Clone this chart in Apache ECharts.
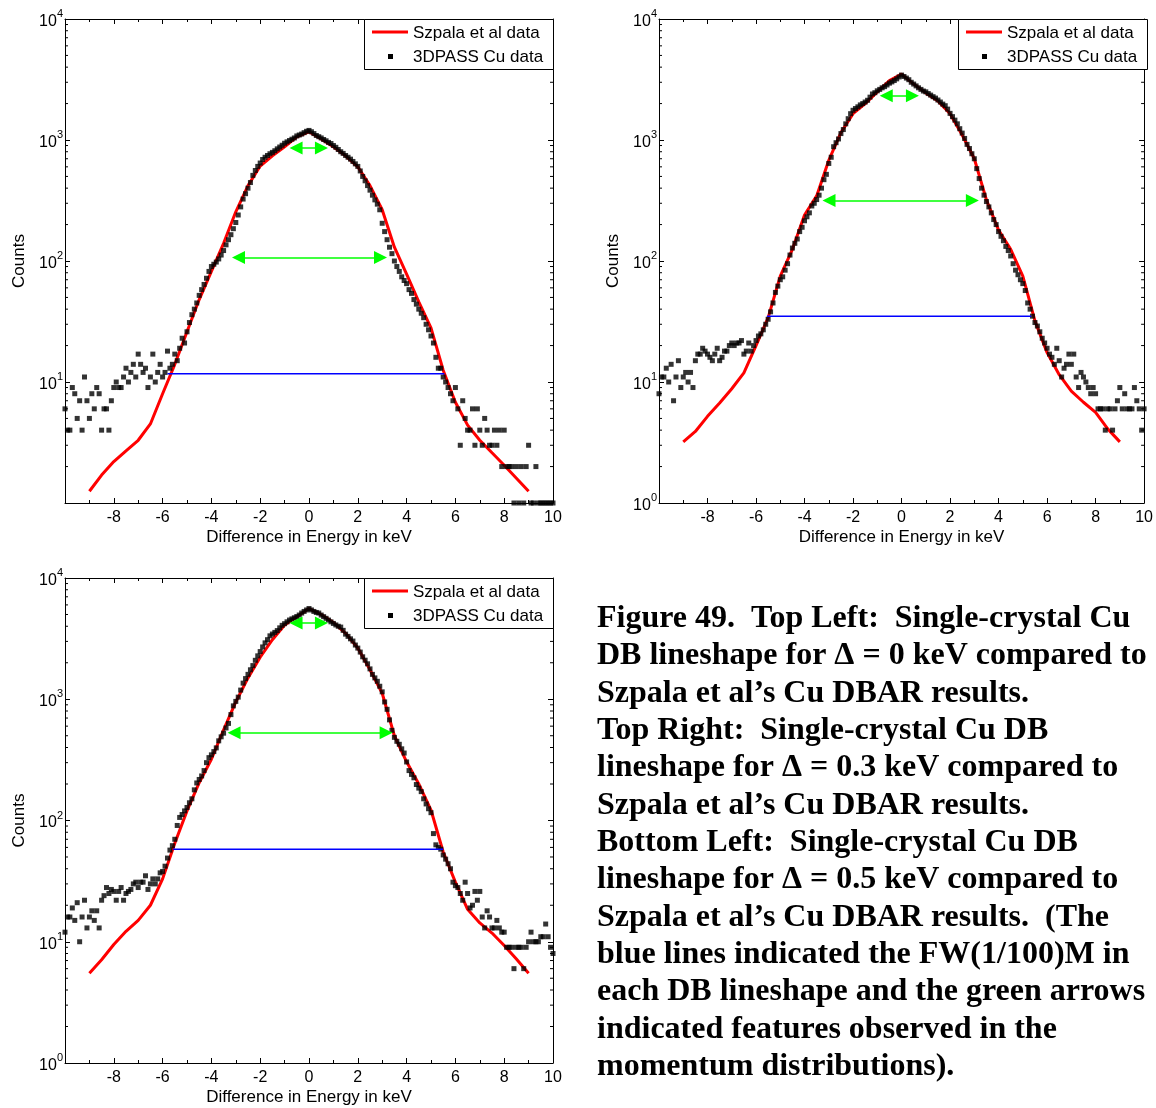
<!DOCTYPE html>
<html><head><meta charset="utf-8">
<script src="https://cdn.jsdelivr.net/npm/echarts@6/dist/echarts.min.js"></script>
<style>html,body{margin:0;padding:0;background:#fff}#chart{width:1156px;height:1108px}</style>
</head><body><div id="chart"></div>
<script>
// ---------- DATA ----------
const ENERGY = [
-10,-9.9,-9.8,-9.7,-9.6,-9.5,-9.4,-9.3,-9.2,-9.1,
-9,-8.9,-8.8,-8.7,-8.6,-8.5,-8.4,-8.3,-8.2,-8.1,
-8,-7.9,-7.8,-7.7,-7.6,-7.5,-7.4,-7.3,-7.2,-7.1,
-7,-6.9,-6.8,-6.7,-6.6,-6.5,-6.4,-6.3,-6.2,-6.1,
-6,-5.9,-5.8,-5.7,-5.6,-5.5,-5.4,-5.3,-5.2,-5.1,
-5,-4.9,-4.8,-4.7,-4.6,-4.5,-4.4,-4.3,-4.2,-4.1,
-4,-3.9,-3.8,-3.7,-3.6,-3.5,-3.4,-3.3,-3.2,-3.1,
-3,-2.9,-2.8,-2.7,-2.6,-2.5,-2.4,-2.3,-2.2,-2.1,
-2,-1.9,-1.8,-1.7,-1.6,-1.5,-1.4,-1.3,-1.2,-1.1,
-1,-0.9,-0.8,-0.7,-0.6,-0.5,-0.4,-0.3,-0.2,-0.1,
0,0.1,0.2,0.3,0.4,0.5,0.6,0.7,0.8,0.9,
1,1.1,1.2,1.3,1.4,1.5,1.6,1.7,1.8,1.9,
2,2.1,2.2,2.3,2.4,2.5,2.6,2.7,2.8,2.9,
3,3.1,3.2,3.3,3.4,3.5,3.6,3.7,3.8,3.9,
4,4.1,4.2,4.3,4.4,4.5,4.6,4.7,4.8,4.9,
5,5.1,5.2,5.3,5.4,5.5,5.6,5.7,5.8,5.9,
6,6.1,6.2,6.3,6.4,6.5,6.6,6.7,6.8,6.9,
7,7.1,7.2,7.3,7.4,7.5,7.6,7.7,7.8,7.9,
8,8.1,8.2,8.3,8.4,8.5,8.6,8.7,8.8,8.9,
9,9.1,9.2,9.3,9.4,9.5,9.6,9.7,9.8,9.9,
10];

// 3DPASS Cu data (counts per energy channel)
const TL_COUNTS = [
6,4,4,9,8,5,7,4,11,7,
5,8,6,9,8,4,6,6,4,7,
9,10,9,9,11,13,10,12,14,11,
17,14,12,13,9,11,17,10,12,14,
11,12,18,13,14,17,15,19,23,21,
26,31,36,40,45,52,58,64,72,82,
90,94,98,104,112,122,136,150,165,185,
208,240,280,325,360,400,445,510,560,605,
645,690,720,745,770,790,815,845,875,905,
940,965,990,1015,1040,1080,1100,1120,1150,1180,
1200,1170,1130,1090,1065,1040,1010,985,955,935,
900,870,835,800,775,745,720,695,665,635,
605,555,500,460,420,385,350,320,295,265,
205,175,150,130,115,100,90,82,74,69,
65,58,54,48,44,40,37,34,30,27,
24,21,16,13,13,11,10,9,8,7,
9,6,3,7,5,4,4,6,3,6,
4,3,5,4,3,3,4,3,4,2,
4,2,2,2,1,2,1,2,1,2,
3,1,1,2,1,1,1,1,1,1,1];

const TR_COUNTS = [
8,11,11,13,10,14,7,11,15,9,
11,12,10,12,9,15,17,17,19,18,
17,16,15,17,19,15,16,18,18,20,
21,20,21,21,22,17,18,21,18,20,
22,24,25,27,30,33,38,45,55,62,
70,74,84,95,112,128,140,152,175,190,
215,232,250,285,300,322,350,400,470,520,
640,720,880,950,1020,1130,1220,1360,1500,1650,
1760,1820,1880,1950,2000,2060,2130,2260,2400,2460,
2550,2620,2700,2760,2850,2950,3020,3100,3200,3320,
3440,3350,3250,3150,3000,2900,2800,2700,2620,2540,
2500,2420,2350,2280,2220,2140,2060,1980,1920,1800,
1660,1560,1460,1360,1240,1140,1030,920,850,770,
700,580,480,400,350,310,280,250,220,200,
175,160,147,132,122,110,95,84,77,70,
65,57,45,40,35,31,29,26,23,21,
19,17,16,14,19,15,11,13,14,17,
14,17,11,9,12,11,10,9,8,9,
8,6,6,6,4,6,6,4,6,7,
9,6,8,6,6,6,9,7,6,4,6];

const BL_COUNTS = [
12,16,16,19,15,21,10,16,22,13,
16,18,15,18,13,22,24,28,25,27,
26,22,26,28,22,25,26,27,30,31,
28,31,31,35,27,30,33,30,33,37,
38,42,49,57,62,70,91,106,112,120,
128,140,151,179,204,218,233,258,300,330,
348,370,397,454,490,525,580,632,747,882,
960,1041,1190,1358,1480,1604,1750,1895,2095,2280,
2473,2700,2918,3100,3334,3450,3560,3683,3880,4070,
4200,4350,4500,4600,4700,4809,4950,5140,5300,5450,
5600,5450,5300,5200,5140,4950,4800,4650,4500,4350,
4220,4100,4000,3937,3700,3444,3300,3150,3020,2800,
2642,2450,2240,2100,1960,1780,1604,1500,1406,1280,
1151,950,826,676,554,485,450,425,390,360,
304,258,240,225,198,185,173,151,137,125,
116,78,63,60,58,52,48,44,40,31,
29,28,25,22,31,25,19,20,26,22,
26,16,13,18,16,13,13,15,13,12,
12,9,9,9,6,9,9,9,6,9,
10,12,10,10,10,11,11,14,11,9,8];

// Szpala et al data
const SZPALA_ENERGY = [-9,-8.5,-8,-7.5,-7,-6.5,-6,-5.5,-5,-4.5,-4,-3.5,-3,-2.5,-2,-1.5,-1,-0.5,0,0.5,1,1.5,2,2.5,3,3.5,4,4.5,5,5.5,6,6.5,7,7.5,8,8.5,9];
const TL_SZPALA = [1.25,1.7,2.2,2.7,3.3,4.5,8,14,26,48,82,140,255,420,610,740,880,1060,1170,1020,880,740,600,420,265,130,78,46,28,12.5,6.8,4.4,3.3,2.6,2.05,1.6,1.25];
const TR_SZPALA = [3.2,3.9,5.2,6.7,8.8,11.9,20,34,75,125,240,345,680,1150,1650,2000,2500,3100,3500,2900,2450,2100,1650,1100,700,320,180,125,75,32,17.5,11.5,8.4,6.8,5.6,4.1,3.2];
const BL_SZPALA = [5.5,7.1,9.5,12.2,15,20,33,65,120,205,320,560,950,1500,2220,3100,4100,4800,5600,5000,4300,3500,2650,1750,1120,500,305,200,122,55,31,18.5,14.3,11.8,9.3,7.2,5.5];

// FW(1/100)M lines: [start keV, end keV, counts level]
const TL_FW = [-5.8, 5.55, 11.7];
const TR_FW = [-5.55, 5.35, 35];
const BL_FW = [-5.57, 5.5, 58];

// green double arrows (shaft ends): [from keV, to keV, counts level]
const TL_ARROWS = [[-0.53, 0.51, 860], [-2.89, 2.93, 107]];
const TR_ARROWS = [[-0.63, 0.45, 2320], [-2.99, 2.92, 316]];
const BL_ARROWS = [[-0.53, 0.51, 4250], [-3.07, 3.16, 530]];

const X_TICK_LABELS = [-8,-6,-4,-2,0,2,4,6,8,10];
const Y_MINOR_BASE = [2,3,4,5,6,7,8,9];
const Y_DECADES = [1,10,100,1000];

const LEGEND_LABELS = ['Szpala et al data', '3DPASS Cu data'];
const CAPTION = [
'Figure 49.  Top Left:  Single-crystal Cu',
'DB lineshape for \u0394 = 0 keV compared to',
'Szpala et al\u2019s Cu DBAR results.',
'Top Right:  Single-crystal Cu DB',
'lineshape for \u0394 = 0.3 keV compared to',
'Szpala et al\u2019s Cu DBAR results.',
'Bottom Left:  Single-crystal Cu DB',
'lineshape for \u0394 = 0.5 keV compared to',
'Szpala et al\u2019s Cu DBAR results.  (The',
'blue lines indicated the FW(1/100)M in',
'each DB lineshape and the green arrows',
'indicated features observed in the',
'momentum distributions).'
];

// ---------- LAYOUT ----------
const FONT = '"Liberation Sans", Arial, sans-serif';
const panels = [
  {grid:{left:65, top:19, width:488, height:484}, counts:TL_COUNTS, sz:TL_SZPALA, fw:TL_FW, arrows:TL_ARROWS, showZero:false},
  {grid:{left:659, top:19, width:488, height:484}, counts:TR_COUNTS, sz:TR_SZPALA, fw:TR_FW, arrows:TR_ARROWS, showZero:true},
  {grid:{left:65, top:578, width:488, height:485}, counts:BL_COUNTS, sz:BL_SZPALA, fw:BL_FW, arrows:BL_ARROWS, showZero:true}
];

const minorTickValues = [];
Y_DECADES.forEach(d => Y_MINOR_BASE.forEach(b => minorTickValues.push(b * d)));

const option = {
  animation: false,
  backgroundColor: '#fff',
  textStyle: {fontFamily: FONT},
  grid: [], xAxis: [], yAxis: [], series: [], graphic: []
};

const blackLine = {color: '#000', width: 1};

panels.forEach((p, k) => {
  option.grid.push(Object.assign({show: false, containLabel: false}, p.grid));
  const xBase = {
    gridIndex: k, type: 'value', min: -10, max: 10, interval: 2,
    axisLine: {show: true, onZero: false, lineStyle: blackLine},
    axisTick: {show: true, inside: true, length: 5, lineStyle: blackLine},
    minorTick: {show: true, splitNumber: 2, length: 3, lineStyle: blackLine},
    splitLine: {show: false}, minorSplitLine: {show: false}
  };
  option.xAxis.push(Object.assign({}, xBase, {
    position: 'bottom',
    axisLabel: {show: true, color: '#000', fontSize: 16, fontFamily: FONT, margin: 7,
      formatter: v => X_TICK_LABELS.indexOf(v) >= 0 ? String(v) : ''},
    name: 'Difference in Energy in keV', nameLocation: 'middle', nameGap: 26,
    nameTextStyle: {color: '#000', fontSize: 17, fontFamily: FONT}
  }));
  option.xAxis.push(Object.assign({}, xBase, {position: 'top', axisLabel: {show: false}}));

  const yBase = {
    gridIndex: k, type: 'log', logBase: 10, min: 1, max: 10000,
    axisLine: {show: true, onZero: false, lineStyle: blackLine},
    axisTick: {show: true, inside: true, length: 5, lineStyle: blackLine},
    minorTick: {show: false},
    splitLine: {show: false}
  };
  option.yAxis.push(Object.assign({}, yBase, {
    position: 'left',
    axisLabel: {show: true, margin: 2,
      formatter: v => {
        const e = Math.round(Math.log10(v));
        if (e === 0 && !p.showZero) return '';
        return '{b|10}{s|' + e + '}';
      },
      rich: {
        b: {fontSize: 16, color: '#000', fontFamily: FONT, verticalAlign: 'bottom'},
        s: {fontSize: 11, color: '#000', fontFamily: FONT, verticalAlign: 'bottom', padding: [0, 0, 10, 0]}
      }
    },
    name: 'Counts', nameLocation: 'middle', nameGap: 37, nameRotate: 90,
    nameTextStyle: {color: '#000', fontSize: 17, fontFamily: FONT}
  }));
  option.yAxis.push(Object.assign({}, yBase, {position: 'right', axisLabel: {show: false}}));

  const xi = 2 * k, yi = 2 * k;
  option.series.push({
    name: LEGEND_LABELS[0], type: 'line', xAxisIndex: xi, yAxisIndex: yi,
    data: SZPALA_ENERGY.map((e, i) => [e, p.sz[i]]),
    showSymbol: false, smooth: false, lineStyle: {color: '#ff0000', width: 3}, z: 2, silent: true
  });
  option.series.push({
    name: LEGEND_LABELS[1], type: 'scatter', xAxisIndex: xi, yAxisIndex: yi,
    data: ENERGY.map((e, i) => [e, p.counts[i]]),
    symbol: 'rect', symbolSize: 5, itemStyle: {color: '#000'}, z: 3, silent: true
  });
  option.series.push({
    name: 'FW(1/100)M', type: 'line', xAxisIndex: xi, yAxisIndex: yi,
    data: [[p.fw[0], p.fw[2]], [p.fw[1], p.fw[2]]],
    showSymbol: false, lineStyle: {color: '#0000ff', width: 1.5}, z: 4, silent: true
  });
  option.series.push({
    name: 'features', type: 'line', xAxisIndex: xi, yAxisIndex: yi, data: [], z: 5,
    markLine: {
      silent: true, animation: false,
      symbol: ['triangle', 'triangle'], symbolSize: [13, 13],
      lineStyle: {color: '#00ff00', width: 1.5, type: 'solid'},
      itemStyle: {color: '#00ff00'},
      label: {show: false},
      emphasis: {disabled: true},
      data: p.arrows.map(a => [{coord: [a[0], a[2]]}, {coord: [a[1], a[2]]}])
    }
  });
  option.series.push({
    name: 'minor ticks', type: 'custom', xAxisIndex: xi, yAxisIndex: yi, silent: true, z: 6,
    data: minorTickValues.map(v => [-10, v]),
    renderItem: (params, api) => {
      const cs = params.coordSys;
      const y = api.coord([api.value(0), api.value(1)])[1];
      return {type: 'group', children: [
        {type: 'line', shape: {x1: cs.x, y1: y, x2: cs.x + 3, y2: y}, style: {stroke: '#000', lineWidth: 1}},
        {type: 'line', shape: {x1: cs.x + cs.width, y1: y, x2: cs.x + cs.width - 3, y2: y}, style: {stroke: '#000', lineWidth: 1}}
      ]};
    }
  });

  // legend box
  const gx = p.grid.left, gy = p.grid.top;
  option.graphic.push(
    {type: 'rect', left: gx + 299, top: gy, shape: {width: 189, height: 50}, style: {fill: '#fff', stroke: '#000', lineWidth: 1}, z: 100},
    {type: 'line', shape: {x1: gx + 307, y1: gy + 13, x2: gx + 343, y2: gy + 13}, style: {stroke: '#ff0000', lineWidth: 3}, z: 101},
    {type: 'text', x: gx + 348, y: gy + 14, style: {text: LEGEND_LABELS[0], font: '17px ' + FONT, fill: '#000', textVerticalAlign: 'middle', verticalAlign: 'middle'}, z: 101},
    {type: 'rect', shape: {x: gx + 323, y: gy + 35, width: 5, height: 5}, style: {fill: '#000'}, z: 101},
    {type: 'text', x: gx + 348, y: gy + 38, style: {text: LEGEND_LABELS[1], font: '17px ' + FONT, fill: '#000', textVerticalAlign: 'middle', verticalAlign: 'middle'}, z: 101}
  );
});

option.graphic.push({
  type: 'text', x: 597, y: 600, z: 100,
  style: {text: CAPTION.join('\n'), font: 'bold 32px "Liberation Serif", "Times New Roman", serif', lineHeight: 37.33, fill: '#000'}
});

const chart = echarts.init(document.getElementById('chart'), null, {renderer: 'canvas'});
chart.setOption(option);
</script>
</body></html>
